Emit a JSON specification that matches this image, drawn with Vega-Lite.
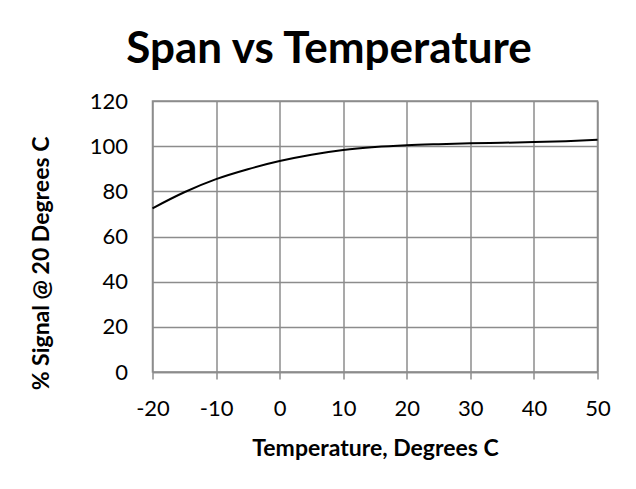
{
  "$schema": "https://vega.github.io/schema/vega-lite/v6.json",
  "autosize": "none",
  "width": 445,
  "height": 271,
  "padding": {"left": 152.5, "top": 101, "right": 38, "bottom": 117},
  "background": "white",
  "title": {
    "text": "Span vs Temperature",
    "font": "Lato",
    "fontSize": 44,
    "fontWeight": "bold",
    "color": "black",
    "anchor": "middle",
    "frame": "group",
    "dx": -46,
    "baseline": "alphabetic",
    "offset": -17
  },
  "data": {
    "values": [
      {"t": -20, "s": 72.5},
      {"t": -15, "s": 79.6},
      {"t": -10, "s": 85.4},
      {"t": -5, "s": 89.8},
      {"t": 0, "s": 93.4},
      {"t": 5, "s": 96.2},
      {"t": 10, "s": 98.3},
      {"t": 15, "s": 99.6},
      {"t": 20, "s": 100.4},
      {"t": 25, "s": 100.9},
      {"t": 30, "s": 101.3},
      {"t": 35, "s": 101.5},
      {"t": 40, "s": 101.8},
      {"t": 45, "s": 102.2},
      {"t": 50, "s": 102.8}
    ]
  },
  "mark": {"type": "line", "color": "black", "strokeWidth": 2, "interpolate": "monotone"},
  "encoding": {
    "x": {
      "field": "t",
      "type": "quantitative",
      "scale": {"domain": [-20, 50], "nice": false, "zero": false},
      "axis": {
        "title": "Temperature, Degrees C",
        "values": [-20, -10, 0, 10, 20, 30, 40, 50],
        "labelExpr": "'' + datum.value",
        "grid": true,
        "gridColor": "#8c8c8c",
        "gridWidth": 1.5,
        "domainColor": "#8c8c8c",
        "domainWidth": 1.5,
        "ticks": true,
        "tickSize": 7,
        "tickColor": "#8c8c8c",
        "tickWidth": 1.5,
        "labelFont": "Lato",
        "labelFontSize": 22,
        "labelColor": "black",
        "labelBaseline": "alphabetic",
        "labelPadding": 36,
        "labelFlush": false,
        "labelOverlap": false,
        "titleFont": "Lato",
        "titleFontSize": 23,
        "titleFontWeight": "bold",
        "titleColor": "black",
        "titleBaseline": "alphabetic",
        "titleY": 83
      }
    },
    "y": {
      "field": "s",
      "type": "quantitative",
      "scale": {"domain": [0, 120], "nice": false},
      "axis": {
        "title": "% Signal @ 20 Degrees C",
        "values": [0, 20, 40, 60, 80, 100, 120],
        "grid": true,
        "gridColor": "#8c8c8c",
        "gridWidth": 1.5,
        "domain": false,
        "ticks": false,
        "tickSize": 0,
        "labelFont": "Lato",
        "labelFontSize": 22,
        "labelColor": "black",
        "labelPadding": 25,
        "labelFlush": false,
        "labelOverlap": false,
        "titleFont": "Lato",
        "titleFontSize": 23,
        "titleFontWeight": "bold",
        "titleColor": "black",
        "titleAngle": 270,
        "titleBaseline": "middle",
        "titleX": -111.5,
        "titleY": 162
      }
    }
  },
  "config": {
    "view": {"stroke": "#8c8c8c", "strokeWidth": 1.5}
  }
}
